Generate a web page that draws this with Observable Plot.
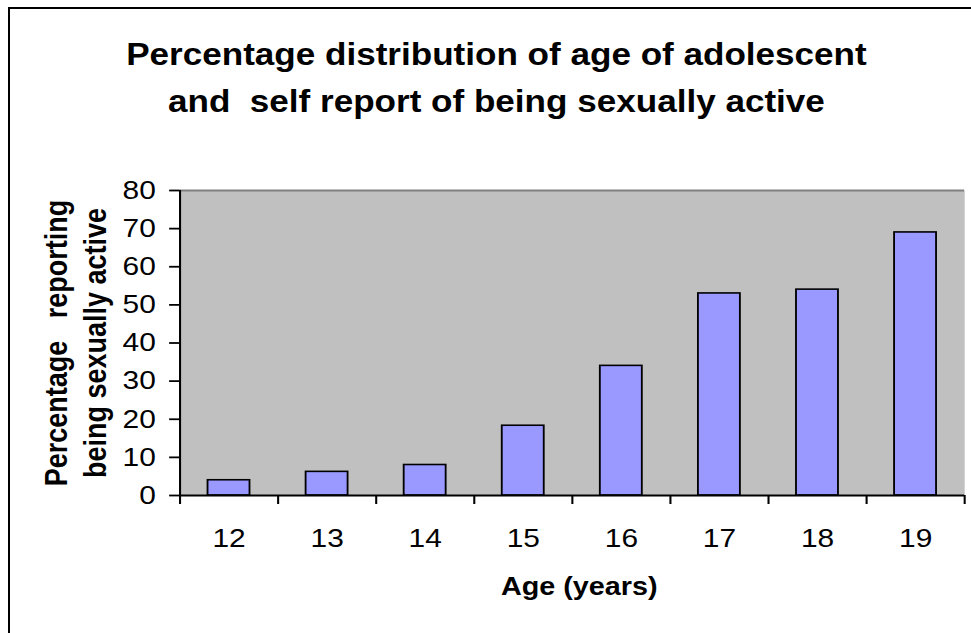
<!DOCTYPE html>
<html>
<head>
<meta charset="utf-8">
<script src="https://cdn.jsdelivr.net/npm/d3@7"></script>
<script src="https://cdn.jsdelivr.net/npm/@observablehq/plot@0.6"></script>
<style>
  html, body { margin: 0; padding: 0; background: #fff; }
  #wrap { position: relative; width: 971px; height: 633px; overflow: hidden; background: #fff; }
  #border { position: absolute; left: 8px; top: 7px; width: 1200px; height: 1200px;
            border-left: 2px solid #000; border-top: 2px solid #000; pointer-events: none; }
  #wrap svg { position: absolute; left: 0; top: 0; transform-origin: 0 0; }
  svg text { white-space: pre; }
</style>
</head>
<body>
<div id="wrap"><div id="border"></div></div>
<script>
// ---- data ----
const ages = [12, 13, 14, 15, 16, 17, 18, 19];
const pct = [4, 6.2, 8, 18.3, 34, 53, 54, 69];
const yTicks = [0, 10, 20, 30, 40, 50, 60, 70, 80];
const titleText = "Percentage distribution of age of adolescent\nand  self report of being sexually active";
const xTitle = "Age (years)";
const yTitle = "Percentage   reporting\nbeing sexually active";

const data = ages.map((a, i) => ({age: a, pct: pct[i]}));
const bounds = ages.map(a => a - 0.5).concat([ages[ages.length - 1] + 0.5]);
const half = 0.214;

const W = 844; // drawn width, stretched horizontally to 971
const font = "'Liberation Sans', Arial, Helvetica, sans-serif";

const chart = Plot.plot({
  width: W,
  height: 633,
  marginLeft: 156,
  marginRight: 6,
  marginTop: 190,
  marginBottom: 138,
  style: {fontFamily: font, fontSize: "26px", color: "#000", background: "transparent", overflow: "visible"},
  x: {type: "linear", domain: [bounds[0], bounds[bounds.length - 1]]},
  y: {domain: [0, 80]},
  marks: [
    Plot.frame({fill: "#c0c0c0", stroke: null}),
    Plot.ruleY([80], {stroke: "#808080", strokeWidth: 2}),
    Plot.rectY(data, {x1: d => d.age - half, x2: d => d.age + half, y1: 0, y2: "pct",
      fill: "#9999ff", stroke: "#000", strokeWidth: 1.6}),
    Plot.ruleY([0], {stroke: "#000", strokeWidth: 2}),
    Plot.ruleX([bounds[0]], {stroke: "#000", strokeWidth: 1.8}),
    Plot.axisY({ticks: yTicks, tickSize: 9, tickPadding: 12, strokeWidth: 1.8, label: null, tickFormat: d => String(d)}),
    Plot.axisX({ticks: bounds, tickSize: 9, strokeWidth: 1.8, tickFormat: () => "", label: null}),
    Plot.axisX({ticks: ages, tickSize: 0, tickPadding: 33, label: null, tickFormat: d => String(d)}),
    Plot.text([titleText], {text: d => d, frameAnchor: "top", textAnchor: "middle", lineAnchor: "middle",
      dx: -66, dy: -117, fontSize: 30.5, fontWeight: "bold", lineHeight: 47 / 30.5}),
    Plot.text([xTitle], {text: d => d, frameAnchor: "bottom", textAnchor: "middle", lineAnchor: "middle",
      dx: 6, dy: 91.5, fontSize: 25, fontWeight: "bold"}),
    Plot.text([yTitle], {text: d => d, frameAnchor: "left", textAnchor: "middle", lineAnchor: "middle",
      dx: -92, rotate: -90, fontSize: 27, fontWeight: "bold", lineHeight: 33.4 / 27})
  ]
});
chart.style.transform = `scaleX(${971 / W})`;
document.getElementById("wrap").appendChild(chart);
</script>
</body>
</html>
